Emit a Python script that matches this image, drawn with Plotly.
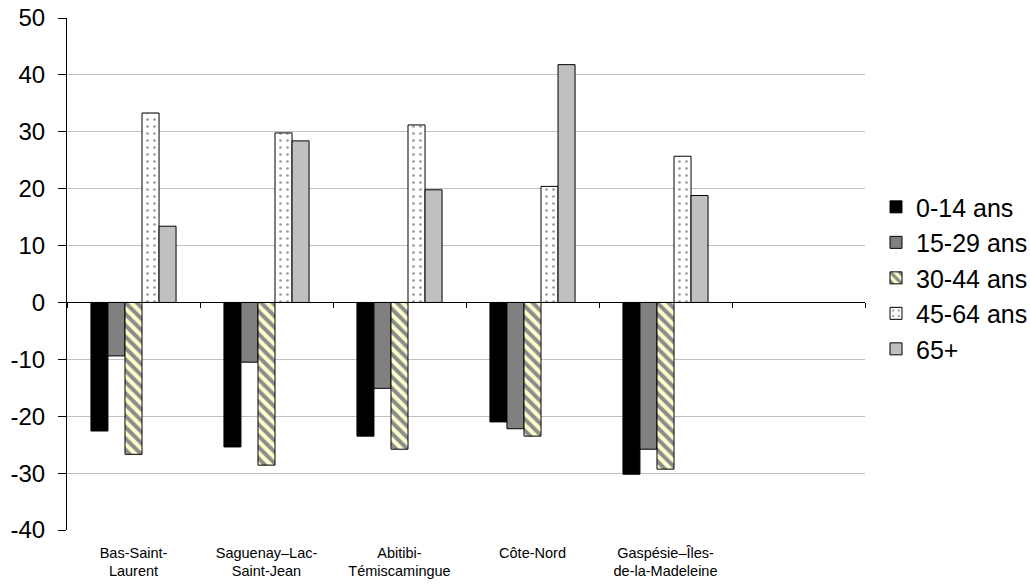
import plotly.graph_objects as go

# Regions (the sixth slot on the axis is left empty)
regions = ["Bas-Saint-Laurent", "Saguenay–Lac-Saint-Jean", "Abitibi-Témiscamingue",
           "Côte-Nord", "Gaspésie–Îles-de-la-Madeleine"]
region_labels = ["Bas-Saint-<br>Laurent", "Saguenay–Lac-<br>Saint-Jean", "Abitibi-<br>Témiscamingue",
                 "Côte-Nord", "Gaspésie–Îles-<br>de-la-Madeleine"]
empty_slot = " "

# Variation (%) by age group
age_0_14 = [-22.6, -25.4, -23.5, -21.0, -30.2]
age_15_29 = [-9.4, -10.5, -15.1, -22.2, -25.8]
age_30_44 = [-26.7, -28.6, -25.8, -23.5, -29.3]
age_45_64 = [33.3, 29.8, 31.2, 20.4, 25.7]
age_65_plus = [13.4, 28.4, 19.8, 41.8, 18.8]

series_names = ["0-14 ans", "15-29 ans", "30-44 ans", "45-64 ans", "65+"]
y_ticks = [-40, -30, -20, -10, 0, 10, 20, 30, 40, 50]
grid_vals = [-30, -20, -10, 10, 20, 30, 40]

FONT = "Arial, Liberation Sans, sans-serif"
outline = dict(color="#000000", width=1)

styles = [
    dict(color="#000000", line=outline),
    dict(color="#808080", line=outline),
    dict(color="#FFFFCC", line=outline,
         pattern=dict(shape="\\", fgcolor="#8c8c8c", bgcolor="#FFFFCC",
                      size=8, solidity=0.5, fillmode="replace")),
    dict(color="#FFFFFF", line=outline,
         pattern=dict(shape=".", fgcolor="#9a9a9a", bgcolor="#FFFFFF",
                      size=7, solidity=0.12, fillmode="replace")),
    dict(color="#C0C0C0", line=outline),
]

fig = go.Figure()
for name, vals, st in zip(series_names,
                          [age_0_14, age_15_29, age_30_44, age_45_64, age_65_plus],
                          styles):
    fig.add_trace(go.Bar(x=regions, y=vals, name=name, marker=st,
                         xaxis="x", yaxis="y"))

# carrier trace so the bottom label axis is drawn
label_pos = list(range(len(regions)))
fig.add_trace(go.Scatter(x=label_pos, y=[0] * len(regions), xaxis="x2", yaxis="y",
                         mode="markers", marker=dict(opacity=0),
                         showlegend=False, hoverinfo="skip"))

zero_pos = (0 - y_ticks[0]) / (y_ticks[-1] - y_ticks[0])

fig.update_layout(
    width=1030, height=586,
    margin=dict(l=67, r=165, t=18, b=56, autoexpand=False),
    paper_bgcolor="white", plot_bgcolor="white",
    font=dict(family=FONT, color="#000000"),
    barmode="group", bargap=0.36, bargroupgap=0,
    showlegend=True,
    legend=dict(x=1.0138, xanchor="left", y=0.492, yanchor="middle",
                font=dict(size=25, family=FONT), bgcolor="rgba(0,0,0,0)",
                tracegroupgap=0),
    # category axis drawn along y = 0, tick marks between categories
    xaxis=dict(type="category", categoryorder="array",
               categoryarray=regions + [empty_slot],
               range=[-0.5, 5.5], anchor="free", position=zero_pos,
               showline=True, linecolor="#000000", linewidth=1,
               ticks="outside", tickson="boundaries", ticklen=5,
               tickcolor="#000000", showticklabels=False, showgrid=False,
               zeroline=False, fixedrange=True),
    # category names along the bottom edge
    xaxis2=dict(overlaying="x", anchor="y", side="bottom", type="linear",
                range=[-0.5, 5.5], tickmode="array",
                tickvals=label_pos, ticktext=region_labels,
                ticks="", showline=False, showgrid=False, zeroline=False,
                tickfont=dict(size=14.5, family=FONT), ticklabelstandoff=12,
                automargin=False),
    yaxis=dict(range=[y_ticks[0], y_ticks[-1]], tickmode="array", tickvals=y_ticks,
               ticktext=[str(v) for v in y_ticks],
               showline=True, linecolor="#000000", linewidth=1,
               ticks="outside", ticklen=8, tickcolor="#000000",
               tickfont=dict(size=24, family=FONT), ticklabelstandoff=8,
               showgrid=False, zeroline=False, automargin=False,
               minor=dict(tickmode="array", tickvals=grid_vals, showgrid=True,
                          gridcolor="#C0C0C0", gridwidth=1, ticks="")),
)

fig.write_html("out.html")
